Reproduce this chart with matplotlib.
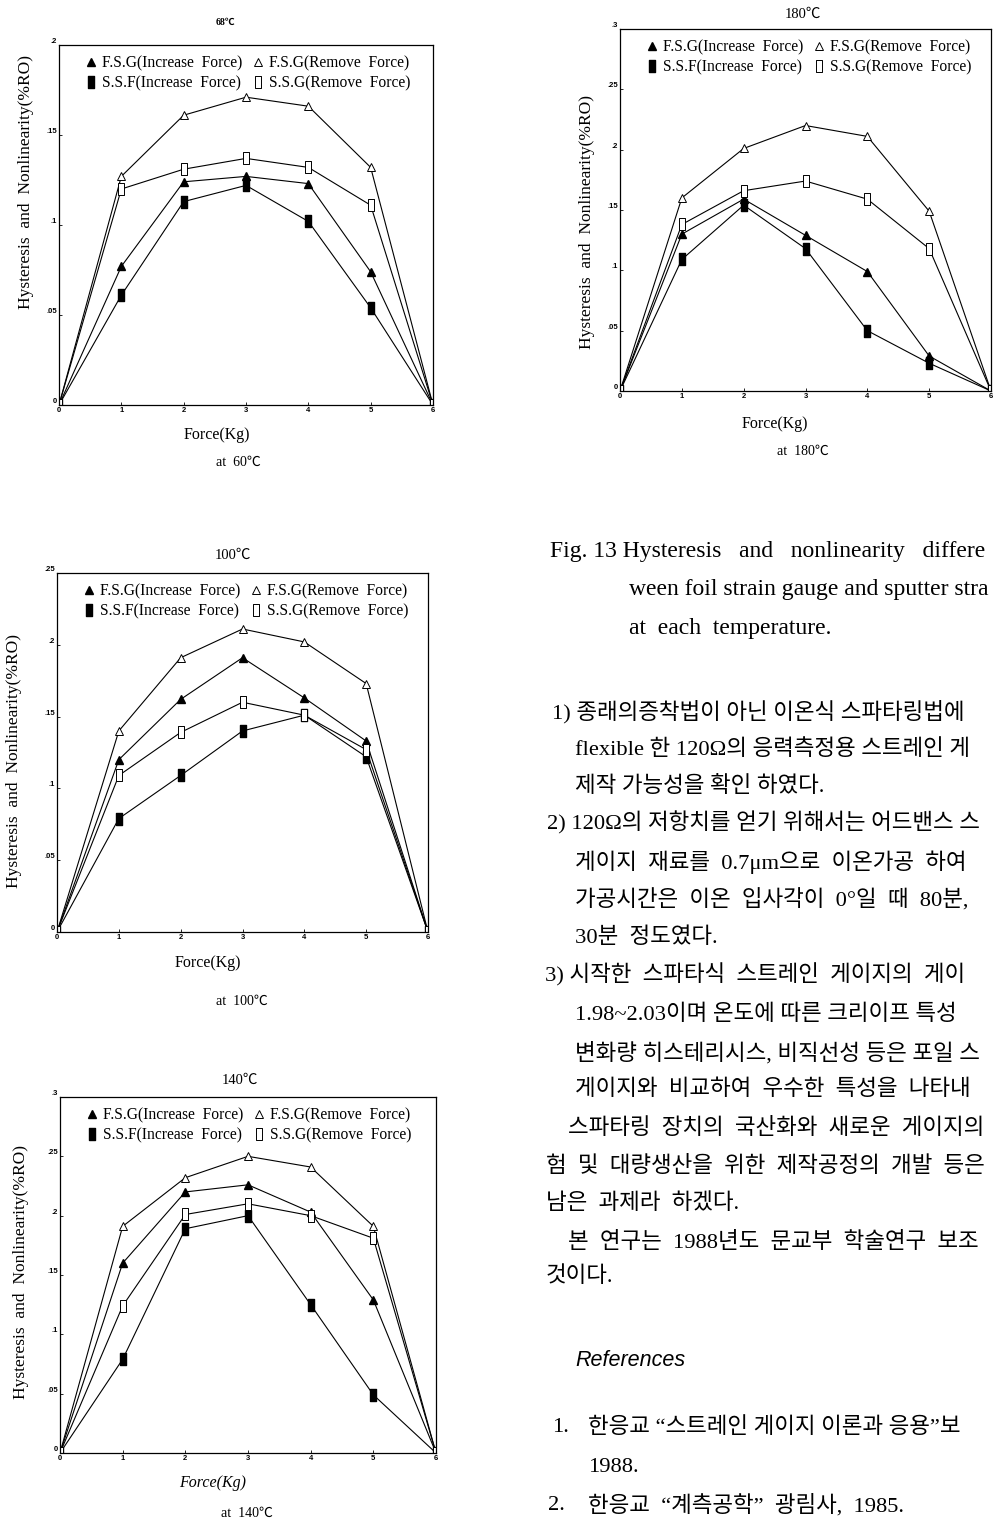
import matplotlib
matplotlib.use("Agg")
import matplotlib.pyplot as plt
from matplotlib.lines import Line2D
from matplotlib.path import Path

W, H = 994, 1523
SERIF = ['Liberation Serif', 'Noto Sans CJK KR', 'DejaVu Sans']
SANS = ['Liberation Sans', 'DejaVu Sans']

# ---- data -------------------------------------------------------------
force = [0, 1, 2, 3, 4, 5, 6]
force_labels = ['0', '1', '2', '3', '4', '5', '6']

series_labels = ['F.S.G(Increase  Force)', 'S.S.F(Increase  Force)',
                 'F.S.G(Remove  Force)', 'S.S.G(Remove  Force)']

# 60 C
fsg_inc_60 = [0, 0.077, 0.124, 0.127, 0.123, 0.074, 0]
ssf_inc_60 = [0, 0.061, 0.113, 0.122, 0.102, 0.054, 0]
fsg_rem_60 = [0, 0.127, 0.161, 0.171, 0.166, 0.132, 0]
ssg_rem_60 = [0, 0.120, 0.131, 0.137, 0.132, 0.111, 0]

# 180 C
fsg_inc_180 = [0, 0.130, 0.159, 0.129, 0.099, 0.029, 0]
ssf_inc_180 = [0, 0.109, 0.154, 0.118, 0.050, 0.023, 0]
fsg_rem_180 = [0, 0.160, 0.201, 0.220, 0.211, 0.149, 0]
ssg_rem_180 = [0, 0.138, 0.166, 0.174, 0.159, 0.118, 0]

# 100 C
fsg_inc_100 = [0, 0.120, 0.162, 0.191, 0.163, 0.133, 0]
ssf_inc_100 = [0, 0.079, 0.109, 0.140, 0.151, 0.122, 0]
fsg_rem_100 = [0, 0.140, 0.191, 0.211, 0.202, 0.173, 0]
ssg_rem_100 = [0, 0.109, 0.139, 0.160, 0.151, 0.127, 0]

# 140 C
fsg_inc_140 = [0, 0.160, 0.220, 0.226, 0.203, 0.129, 0]
ssf_inc_140 = [0, 0.079, 0.189, 0.200, 0.125, 0.049, 0]
fsg_rem_140 = [0, 0.191, 0.232, 0.250, 0.241, 0.191, 0]
ssg_rem_140 = [0, 0.124, 0.201, 0.210, 0.200, 0.181, 0]

yticks_020 = [0, 0.05, 0.10, 0.15, 0.20]
ylabels_020 = ['0', '.05', '.1', '.15', '.2']
yticks_025 = [0, 0.05, 0.10, 0.15, 0.20, 0.25]
ylabels_025 = ['0', '.05', '.1', '.15', '.2', '.25']
yticks_030 = [0, 0.05, 0.10, 0.15, 0.20, 0.25, 0.30]
ylabels_030 = ['0', '.05', '.1', '.15', '.2', '.25', '.3']

# ---- helpers ------------------------------------------------------------
def fx(x):
    return x / W

def fy(y):
    return 1 - y / H

# upright bar marker (narrower than tall)
BAR = Path([(-0.32, -0.6), (0.32, -0.6), (0.32, 0.6), (-0.32, 0.6), (-0.32, -0.6)],
           [Path.MOVETO, Path.LINETO, Path.LINETO, Path.LINETO, Path.CLOSEPOLY])

STYLES = [
    dict(marker='^', ms=5.5, mfc='black', mec='black'),
    dict(marker=BAR, ms=8, mfc='black', mec='black'),
    dict(marker='^', ms=5.5, mfc='white', mec='black', mew=0.7),
    dict(marker=BAR, ms=8, mfc='white', mec='black', mew=0.7),
]

fig = plt.figure(figsize=(W / 100, H / 100), dpi=100)


def panel(box, series, yticks, ylabels, ymax, ylab_pos):
    left, top, right, bottom = box
    ax = fig.add_axes([fx(left), fy(bottom), fx(right - left), (bottom - top) / H])
    order = [2, 3, 0, 1]
    for i in order:
        ax.plot(force, series[i], color='black', lw=0.8, zorder=2 + i * 0.1,
                **STYLES[i])
    ax.set_xlim(0, 6)
    ax.set_ylim(0, ymax)
    ax.set_xticks(force)
    ax.set_xticklabels(force_labels, fontsize=5.5, fontweight='bold',
                       family=SANS)
    ax.set_yticks(yticks)
    ax.set_yticklabels(ylabels, fontsize=5.5, fontweight='bold', family=SANS,
                       va='bottom')
    ax.tick_params(axis='both', direction='in', length=2, width=0.6, pad=1.5)
    for s in ax.spines.values():
        s.set_linewidth(0.9)
    ax.set_ylabel('Hysteresis  and  Nonlinearity(%RO)', family=SERIF,
                  fontsize=12.5)
    ax.yaxis.set_label_coords(*ylab_pos)
    handles = [Line2D([], [], ls='none', color='black', **STYLES[i]) for i in range(4)]
    ax.legend(handles, series_labels, ncol=2, loc='upper left',
              bbox_to_anchor=(0.045, 1.0), frameon=False,
              prop=dict(family=SERIF, size=11.2), handlelength=0.6,
              handletextpad=0.4, columnspacing=0.7, labelspacing=0.2,
              borderaxespad=0.3)
    return ax


panel((59, 45, 433, 405), [fsg_inc_60, ssf_inc_60, fsg_rem_60, ssg_rem_60],
      yticks_020, ylabels_020, 0.2, (-0.067, 0.62))
panel((620, 29, 991, 391), [fsg_inc_180, ssf_inc_180, fsg_rem_180, ssg_rem_180],
      yticks_030, ylabels_030, 0.3, (-0.067, 0.467))
panel((57, 573, 428, 932), [fsg_inc_100, ssf_inc_100, fsg_rem_100, ssg_rem_100],
      yticks_025, ylabels_025, 0.25, (-0.094, 0.476))
panel((60, 1097, 436, 1453), [fsg_inc_140, ssf_inc_140, fsg_rem_140, ssg_rem_140],
      yticks_030, ylabels_030, 0.3, (-0.082, 0.508))


def txt(x, y, s, size=11, ha='center', **kw):
    kw.setdefault('family', SERIF)
    fig.text(fx(x), fy(y), s, ha=ha, va='center', fontsize=size, **kw)


# panel titles, axis names and captions
txt(225, 22, '68℃', size=7, fontweight='bold')
txt(803, 14, '180℃', size=10.5)
txt(233, 555, '100℃', size=10.5)
txt(240, 1080, '140℃', size=10.5)

txt(217, 435, 'Force(Kg)', size=11.5)
txt(775, 424, 'Force(Kg)', size=11.5)
txt(208, 963, 'Force(Kg)', size=11.5)
txt(213, 1483, 'Force(Kg)', size=11.5, style='italic')

txt(238, 462, 'at  60℃', size=10)
txt(803, 451, 'at  180℃', size=10)
txt(242, 1001, 'at  100℃', size=10)
txt(247, 1513, 'at  140℃', size=10)

# figure caption and body text on the right-hand column
CAP = 17
BODY = 16.2
txt(550, 552, 'Fig. 13 Hysteresis   and   nonlinearity   differe', size=CAP, ha='left')
txt(629, 590, 'ween foil strain gauge and sputter stra', size=CAP, ha='left')
txt(629, 628, 'at  each  temperature.', size=CAP, ha='left')

body_lines = [
    (552, 712, '1) 종래의증착법이 아닌 이온식 스파타링법에'),
    (575, 750, 'flexible 한 120Ω의 응력측정용 스트레인 게'),
    (575, 787, '제작 가능성을 확인 하였다.'),
    (547, 823, '2) 120Ω의 저항치를 얻기 위해서는 어드밴스 스'),
    (575, 862, '게이지  재료를  0.7μm으로  이온가공  하여'),
    (575, 900, '가공시간은  이온  입사각이  0°일  때  80분,'),
    (575, 938, '30분  정도였다.'),
    (545, 975, '3) 시작한  스파타식  스트레인  게이지의  게이'),
    (575, 1015, '1.98~2.03이며 온도에 따른 크리이프 특성'),
    (575, 1053, '변화량 히스테리시스, 비직선성 등은 포일 스'),
    (575, 1090, '게이지와  비교하여  우수한  특성을  나타내'),
    (568, 1128, '스파타링  장치의  국산화와  새로운  게이지의'),
    (546, 1167, '험  및  대량생산을  위한  제작공정의  개발  등은'),
    (546, 1204, '남은  과제라  하겠다.'),
    (568, 1242, '본  연구는  1988년도  문교부  학술연구  보조'),
    (546, 1277, '것이다.'),
]
for x, y, s in body_lines:
    txt(x, y, s, size=BODY, ha='left')

txt(575, 1360, 'References', size=15.5, ha='left', family=SANS, style='italic')

txt(552, 1428, '1.', size=BODY, ha='left')
txt(588, 1428, '한응교 “스트레인 게이지 이론과 응용”보', size=BODY, ha='left')
txt(588, 1467, '1988.', size=BODY, ha='left')
txt(548, 1505, '2.', size=BODY, ha='left')
txt(588, 1505, '한응교  “계측공학”  광림사,  1985.', size=BODY, ha='left')

fig.savefig('out.png', dpi=100)
